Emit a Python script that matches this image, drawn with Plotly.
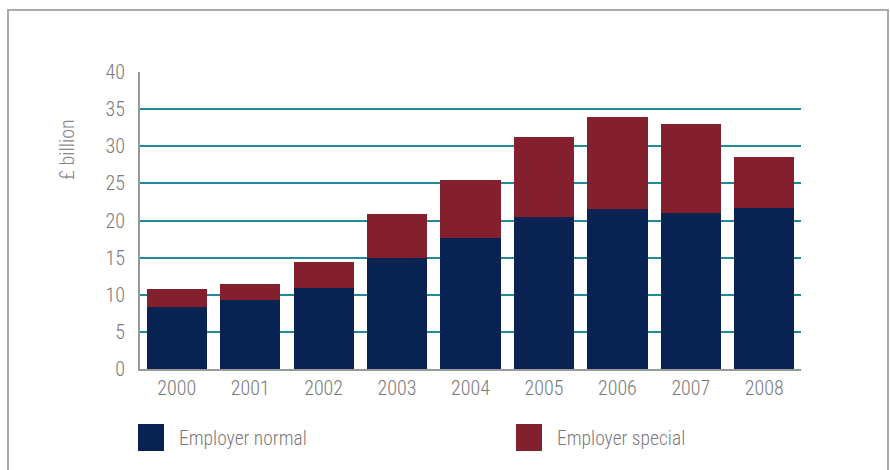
import plotly.graph_objects as go

years = ["2000", "2001", "2002", "2003", "2004", "2005", "2006", "2007", "2008"]
employer_normal = [8.35, 9.3, 10.9, 14.95, 17.6, 20.5, 21.55, 21.0, 21.7]
employer_total = [10.75, 11.4, 14.4, 20.9, 25.45, 31.25, 33.95, 33.0, 28.55]
employer_special = [round(t - n, 2) for t, n in zip(employer_total, employer_normal)]

NAVY = "#082352"
RED = "#84202e"
TEAL = "#22889a"
GREY_TXT = "#7a7a7a"
FONT = "Roboto Condensed, Liberation Sans Narrow, Roboto, sans-serif"


def text_font(size, color=GREY_TXT):
    return dict(family=FONT, size=size, color=color, weight=300)


fig = go.Figure()
fig.add_trace(go.Bar(x=years, y=employer_normal, name="Employer normal",
                     marker=dict(color=NAVY, line=dict(width=0))))
fig.add_trace(go.Bar(x=years, y=employer_special, name="Employer special",
                     marker=dict(color=RED, line=dict(width=0))))

W, H = 890, 470
L, R, T, B = 140, 89, 72, 101
pw, ph = W - L - R, H - T - B


def px_x(x):
    return (x - L) / pw


def px_y(y):
    return (H - B - y) / ph


shapes = [
    # outer frame
    dict(type="rect", xref="paper", yref="paper",
         x0=px_x(8), x1=px_x(888), y0=px_y(480), y1=px_y(10),
         line=dict(color="#aaaaaa", width=2), fillcolor="rgba(0,0,0,0)", layer="below"),
]
annotations = [
    dict(text="£ billion", xref="paper", yref="paper", x=px_x(67), y=px_y(150),
         xanchor="center", yanchor="middle",
         textangle=-90, showarrow=False, font=text_font(20, "#888888")),
]

# legend swatches and labels
legend_items = [("Employer normal", NAVY, 138), ("Employer special", RED, 516)]
for label, color, x0 in legend_items:
    shapes.append(dict(type="rect", xref="paper", yref="paper",
                       x0=px_x(x0), x1=px_x(x0 + 26), y0=px_y(451), y1=px_y(424),
                       fillcolor=color, line=dict(width=0)))
    annotations.append(dict(text=label, xref="paper", yref="paper",
                            x=px_x(x0 + 39), y=px_y(438), xanchor="left", yanchor="middle",
                            showarrow=False, font=text_font(19.5)))

fig.update_layout(
    width=W, height=H,
    margin=dict(l=L, r=R, t=T, b=B),
    barmode="stack", bargap=0.18,
    paper_bgcolor="white", plot_bgcolor="white",
    showlegend=False,
    font=text_font(20),
    shapes=shapes, annotations=annotations,
    xaxis=dict(showline=True, linecolor="#999999", linewidth=2, ticks="",
               tickfont=text_font(20), showgrid=False),
    yaxis=dict(range=[0, 40], dtick=5, showline=True, linecolor="#999999", linewidth=2,
               showgrid=True, gridcolor=TEAL, gridwidth=1.5, zeroline=False,
               ticks="", ticklabelstandoff=9,
               tickfont=text_font(20)),
)

fig.write_html("out.html")
